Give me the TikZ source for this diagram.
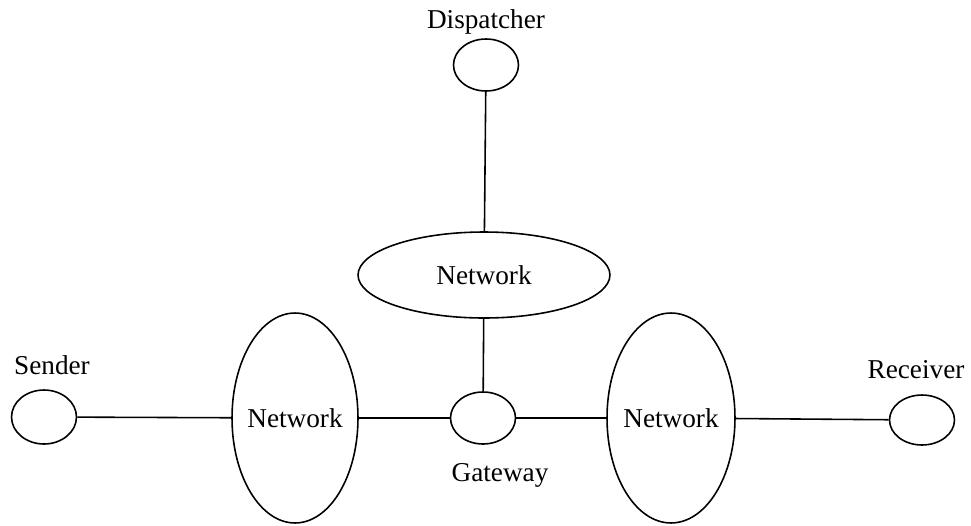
\documentclass[tikz,border=0pt]{standalone}
\usepackage{fontspec}
\setmainfont{Liberation Serif}
\usetikzlibrary{shapes.geometric,positioning}

\tikzset{
  station/.style={ellipse, draw, line width=0.9pt, inner sep=0pt, minimum width=1.3cm, minimum height=1.04cm},
  net/.style={ellipse, draw, line width=0.9pt, inner sep=0pt},
  lbl/.style={font=\fontsize{15.5}{18}\selectfont, inner sep=0pt},
  link/.style={line width=0.9pt}
}

\begin{document}
\begin{tikzpicture}[x=0.02cm, y=-0.02cm]
  \useasboundingbox (0,0) rectangle (971,525);
  % end stations and gateway
  \node[station] (disp) at (486,65) {};
  \node[station] (gw) at (483,418) {};
  \node[station, minimum height=1.08cm] (snd) at (44,417) {};
  \node[station, minimum height=1.0cm] (rcv) at (922,420) {};
  % networks
  \node[net, minimum width=5.04cm, minimum height=1.72cm, label={[lbl]center:Network}] (netT) at (484,275) {};
  \node[net, minimum width=2.52cm, minimum height=4.2cm, label={[lbl]center:Network}] (netL) at (295,418) {};
  \node[net, minimum width=2.56cm, minimum height=4.2cm, label={[lbl]center:Network}] (netR) at (671,418) {};
  % names
  \node[lbl] (dispName) at (486,22) {Dispatcher};
  \node[lbl] (sndName) at (52,365) {Sender};
  \node[lbl] (rcvName) at (916,370) {Receiver};
  \node[lbl] (gwName) at (500,475) {Gateway};
  % links
  \draw[link] (disp) -- (netT);
  \draw[link] (netT) -- (gw);
  \draw[link] (snd) -- (netL);
  \draw[link] (netL) -- (gw);
  \draw[link] (gw) -- (netR);
  \draw[link] (netR) -- (rcv);
\end{tikzpicture}
\end{document}
